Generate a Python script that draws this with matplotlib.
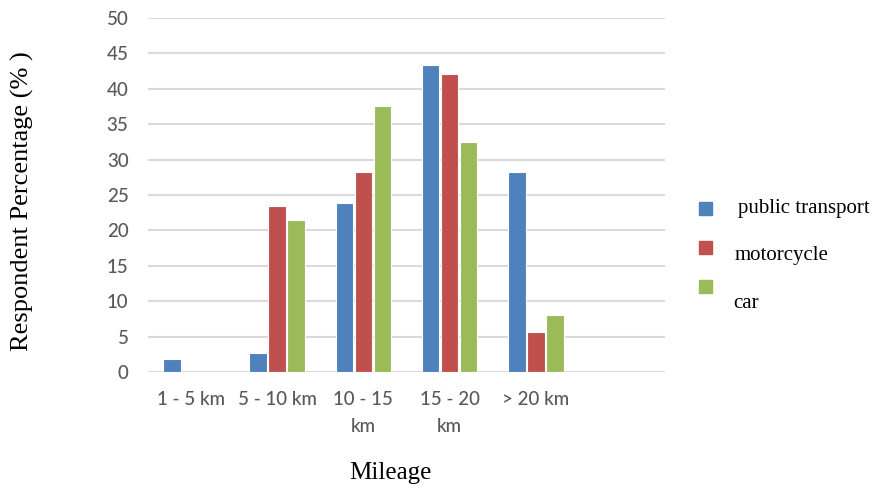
import matplotlib
matplotlib.use("Agg")
import matplotlib.pyplot as plt
from matplotlib.patches import Rectangle
import numpy as np

categories = ["1 - 5 km", "5 - 10 km", "10 - 15\nkm", "15 - 20\nkm", "> 20 km", ""]
series_names = ["public transport", "motorcycle", "car"]
public_transport = [1.8, 2.7, 23.8, 43.4, 28.3, np.nan]
motorcycle = [np.nan, 23.5, 28.3, 42.1, 5.7, np.nan]
car = [np.nan, 21.5, 37.6, 32.5, 8.1, np.nan]
yticks = [0, 5, 10, 15, 20, 25, 30, 35, 40, 45, 50]

colors = ["#4f81bd", "#c0504d", "#9bbb59"]
W, H = 872, 488

fig = plt.figure(figsize=(W / 100, H / 100), dpi=100)
ax = fig.add_axes([148 / W, 1 - 372 / H, (665 - 148) / W, (372 - 18) / H])

x = np.arange(len(categories))
offsets = [-0.22, 0.0, 0.22]
bar_w = 0.205
for vals, off, c in zip([public_transport, motorcycle, car], offsets, colors):
    ax.bar(x + off, vals, width=bar_w, color=c, edgecolor="white",
           linewidth=0.8, zorder=3)

ax.set_xlim(-0.5, len(categories) - 0.5)
ax.set_ylim(0, 50)
ax.set_yticks(yticks)
ax.set_xticks(x)
ax.set_xticklabels(categories, linespacing=1.7)
ax.yaxis.grid(True, color="#d9d9d9", linewidth=1.5, zorder=0)
ax.set_axisbelow(True)
for s in ax.spines.values():
    s.set_visible(False)
ax.tick_params(axis="both", length=0, labelsize=13.5, labelcolor="#595959")
ax.tick_params(axis="y", pad=14)
ax.tick_params(axis="x", pad=14)
for lab in ax.get_xticklabels() + ax.get_yticklabels():
    lab.set_family("Lato")
    lab.set_fontweight("medium")

serif = "Liberation Serif"
fig.text(22 / W, 1 - 201 / H, "Respondent Percentage (% )", rotation=90,
         ha="center", va="center", family=serif, fontsize=19)
fig.text(390 / W, 1 - 473 / H, "Mileage", ha="center", va="center",
         family=serif, fontsize=18)

# legend drawn as squares and text on the figure
legend_rows = [(202, 213, 738), (241, 260, 735), (280, 308, 733)]
for (sq_top, base, tx), name, c in zip(legend_rows, series_names, colors):
    fig.patches.append(Rectangle((699 / W, 1 - (sq_top + 13) / H), 13 / W, 13 / H,
                                 transform=fig.transFigure, color=c))
    fig.text(tx / W, 1 - base / H, name, ha="left", va="baseline",
             family=serif, fontsize=15)

fig.savefig("out.png", dpi=100)
